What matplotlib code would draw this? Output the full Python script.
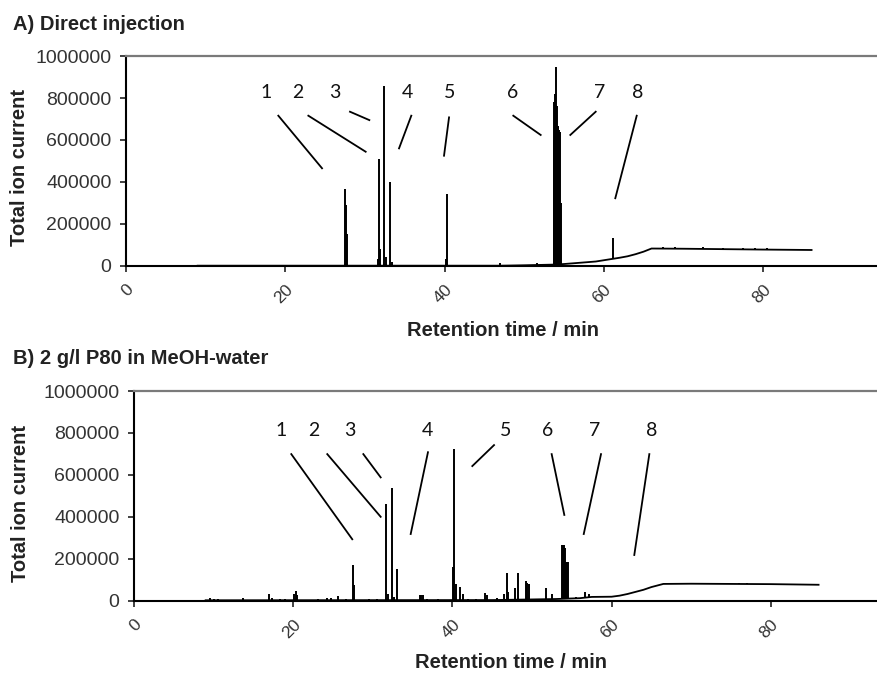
import numpy as np
import matplotlib
matplotlib.use("Agg")
import matplotlib.pyplot as plt

# ---- A) Direct injection ----
# baseline of the trace (retention time in min, total ion current)
a_base_time = [9, 47, 50, 53.5, 55, 57, 59, 60, 61, 62, 63, 64, 65, 66, 70, 75, 80, 86.1]
a_base_tic = [0, 0, 2000, 5000, 8000, 14000, 20000, 26000, 32000, 38000, 45000, 55000,
              67000, 82000, 81000, 79000, 77000, 75000]
# peaks on top of the baseline
a_peak_time = [27.5, 27.6, 27.7, 31.7, 31.8, 31.9, 32.45, 32.6, 33.2, 33.35,
               40.2, 40.3, 47.0, 51.6,
               53.7, 53.8, 53.9, 54.0, 54.1, 54.2, 54.3, 54.4, 54.5, 54.6,
               61.1, 67.5, 69.0, 71.0, 72.5, 75.0, 77.5, 79.0, 80.5]
a_peak_tic = [365000, 290000, 150000, 30000, 510000, 80000, 860000, 40000, 400000, 20000,
              30000, 340000, 12000, 12000,
              600000, 780000, 820000, 950000, 760000, 660000, 666000, 650000, 640000, 300000,
              130000, 88000, 87000, 86000, 87000, 85000, 86000, 84000, 84000]

# ---- B) 2 g/l P80 in MeOH-water ----
b_base_time = [9, 45, 50, 53, 56, 57.5, 60, 61, 62, 63, 64, 65, 66.5, 70, 75, 80, 86]
b_base_tic = [2000, 3000, 6000, 8000, 12000, 18000, 19000, 24000, 32000, 42000, 52000,
              65000, 80000, 81000, 80000, 79000, 76000]
b_peak_time = [9.5, 10.0, 10.5, 11.2, 13.7, 15.5, 17.0, 17.3, 18.3, 19.0, 20.1, 20.3, 20.5,
               23.1, 24.3, 24.8, 25.6, 26.6, 27.45, 27.6, 29.5, 30.5,
               31.7, 31.85, 32.45, 32.7, 33.1, 33.5, 34.5, 35.9, 36.1, 36.3, 36.8, 38.2,
               40.1, 40.24, 40.4, 41.0, 41.3, 42.0, 43.0, 44.1, 44.4, 45.6,
               46.5, 46.8, 47.0, 47.9, 48.3, 49.2, 49.4, 49.6, 51.8, 52.5,
               53.8, 53.9, 54.0, 54.1, 54.2, 54.3, 54.4, 54.5, 55.5, 56.0, 56.7, 57.2,
               67.5, 68.5, 70.0, 71.5, 76.0, 77.0]
b_peak_tic = [12000, 10000, 9000, 5000, 14000, 4000, 32000, 12000, 9000, 8000, 30000, 48000, 25000,
              10000, 12000, 14000, 24000, 6000, 168000, 75000, 8000, 8000,
              462000, 30000, 536000, 20000, 150000, 5000, 5000, 26000, 26000, 26000, 10000, 8000,
              160000, 722000, 80000, 67000, 30000, 10000, 8000, 35000, 28000, 15000,
              30000, 131000, 40000, 60000, 131000, 94000, 85000, 80000, 59000, 30000,
              264000, 264000, 264000, 250000, 186000, 186000, 186000, 186000, 20000, 15000, 40000, 30000,
              86000, 86000, 85000, 85000, 84000, 84000]

peak_numbers = ["1", "2", "3", "4", "5", "6", "7", "8"]
x_ticks = [0, 20, 40, 60, 80]
y_ticks = [0, 200000, 400000, 600000, 800000, 1000000]

# label positions and leader lines (layout, in data units)
a_label_x = [17.6, 21.6, 26.25, 35.4, 40.6, 48.5, 59.5, 64.2]
a_label_y = 828000
a_leaders = [((19.13, 24.62), (716000, 465000)), ((22.9, 30.1), (716000, 544000)),
             ((28.13, 30.56), (735000, 695000)), ((35.83, 34.29), (716000, 560000)),
             ((40.57, 39.94), (708000, 525000)), ((48.64, 52.08), (716000, 624000)),
             ((58.99, 55.8), (735000, 624000)), ((64.14, 61.45), (716000, 322000))]
b_label_x = [18.47, 22.53, 27.14, 36.9, 46.7, 51.97, 57.91, 65.04]
b_label_y = 814000
b_leaders = [((19.76, 27.42), (699000, 293000)), ((24.28, 30.99), (699000, 400000)),
             ((28.81, 30.99), (699000, 588000)), ((36.93, 34.76), (708000, 318000)),
             ((45.23, 42.5), (742000, 642000)), ((52.47, 54.06), (699000, 409000)),
             ((58.67, 56.5), (699000, 318000)), ((64.74, 62.85), (699000, 218000))]

W, H = 877, 675
plt.rcParams["font.family"] = ["Liberation Sans", "DejaVu Sans"]
fig = plt.figure(figsize=(W / 100, H / 100), dpi=100)


def px_box(left, top, right, bottom):
    return [left / W, 1 - bottom / H, (right - left) / W, (bottom - top) / H]


def draw_panel(ax, base_t, base_y, peak_t, peak_y, xmax, label_x, label_y, leaders):
    ax.plot(base_t, base_y, color="black", lw=1.3)
    bottoms = np.interp(peak_t, base_t, base_y)
    ax.vlines(peak_t, bottoms, peak_y, color="black", lw=1.4)

    for num, lx in zip(peak_numbers, label_x):
        ax.text(lx, label_y, num, ha="center", va="center", fontsize=14,
                family=["Lato", "DejaVu Sans"], color="#111111")
    for xs, ys in leaders:
        ax.plot(xs, ys, color="black", lw=1.3)

    ax.set_xlim(0, xmax)
    ax.set_ylim(0, 1000000)
    ax.set_xticks(x_ticks)
    ax.set_yticks(y_ticks)
    ax.set_yticklabels([str(v) for v in y_ticks])
    ax.set_xticklabels([str(v) for v in x_ticks], rotation=45, ha="right", va="top",
                       rotation_mode="anchor")

    ax.tick_params(axis="x", direction="out", length=4.5, width=1.3, labelsize=12.5,
                   pad=7, colors="#333333")
    ax.tick_params(axis="y", direction="out", length=4.5, width=1.3, labelsize=14,
                   pad=6, colors="#333333")
    ax.spines["right"].set_visible(False)
    ax.spines["top"].set_color("#7a7a7a")
    ax.spines["top"].set_linewidth(1.6)
    for side in ("left", "bottom"):
        ax.spines[side].set_color("black")
        ax.spines[side].set_linewidth(1.5)
    ax.patch.set_alpha(0)


ax_a = fig.add_axes(px_box(126, 56.2, 877, 265.7))
draw_panel(ax_a, a_base_time, a_base_tic, a_peak_time, a_peak_tic,
           (877 - 126) / 7.9625, a_label_x, a_label_y, a_leaders)

ax_b = fig.add_axes(px_box(134, 391, 877, 600.7))
draw_panel(ax_b, b_base_time, b_base_tic, b_peak_time, b_peak_tic,
           (877 - 134) / 7.96, b_label_x, b_label_y, b_leaders)

text_kw = dict(fontsize=14.5, fontweight="bold", color="#222222")
fig.text(13 / W, 1 - 24 / H, "A) Direct injection", ha="left", va="center", **text_kw)
fig.text(13 / W, 1 - 358 / H, "B) 2 g/l P80 in MeOH-water", ha="left", va="center", **text_kw)
fig.text(20 / W, 1 - 167 / H, "Total ion current", rotation=90, ha="center", va="center", **text_kw)
fig.text(21 / W, 1 - 503 / H, "Total ion current", rotation=90, ha="center", va="center", **text_kw)
fig.text(503 / W, 1 - 330 / H, "Retention time / min", ha="center", va="center", **text_kw)
fig.text(511 / W, 1 - 663 / H, "Retention time / min", ha="center", va="center", **text_kw)

fig.savefig("out.png", dpi=100)
